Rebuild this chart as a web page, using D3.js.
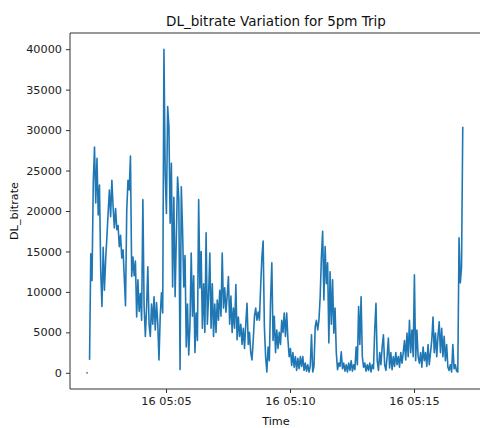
<!DOCTYPE html>
<html>
<head>
<meta charset="utf-8">
<script src="https://cdn.jsdelivr.net/npm/d3@7"></script>
<style>
  html, body { margin: 0; padding: 0; background: #fff; }
  svg { display: block; font-family: "DejaVu Sans", sans-serif; }
</style>
</head>
<body>
<svg id="chart" width="480" height="428"></svg>
<script>
// ---- data ----
const title = "DL_bitrate Variation for 5pm Trip";
const xLabel = "Time";
const yLabel = "DL_bitrate";
const startTime = [2023, 0, 16, 5, 1, 49]; // first sample, local time
const stepSeconds = 3;
const dlBitrate = [
  0, null, 1600, 14700, 11400, 23500, 27900, 21000, 26500, 19500,
  23200, 12700, 8200, 15500, 10200, 14000, 16800, 19800, 22600, 19300,
  23800, 20500, 17900, 20300, 17700, 18200, 15600, 17000, 14200, 15200,
  11800, 8300, 20100, 23800, 22600, 26800, 11900, 14300, 12000, 13800,
  6900, 11500, 7600, 9800, 6500, 21400, 8200, 4500, 8000, 13100,
  6000, 4500, 8500, 6000, 9400, 5300, 8700, 6200, 1600, 7000,
  9900, 7400, 40000, 24700, 19700, 32900, 30400, 18500, 25900, 10600,
  21700, 9400, 16800, 24200, 21400, 400, 23000, 17700, 10600, 14500,
  3200, 8500, 2200, 6000, 14800, 7000, 12000, 2500, 7400, 4000,
  21400, 10500, 15000, 5500, 11000, 5000, 17300, 6000, 9500, 14800,
  5500, 11000, 4500, 8500, 5000, 9000, 6500, 10200, 7000, 14800,
  8000, 10500, 7500, 9500, 11900, 6000, 9500, 5000, 8000, 5500,
  10900, 4100, 6900, 4500, 6000, 3500, 5500, 3000, 6000, 8600,
  3500, 5000, 2500, 1600, 4000, 7000, 8000, 6500, 7500, 6500,
  10600, 14300, 16300, 5700, 2000, 100, 3200, 1500, 9000, 13600,
  4000, 7000, 2500, 5300, 3000, 5000, 3500, 6500, 5000, 7400,
  4500, 7400, 4100, 2000, 3000, 900, 2500, 700, 2000, 300,
  1800, 500, 2000, 800, 2000, 300, 1200, 200, 1000, 100,
  800, 4700, 100, 800, 5700, 6500, 5300, 6500, 9400, 14300,
  17500, 9000, 15600, 11000, 13600, 3700, 12500, 6000, 11500, 4900,
  8000, 2500, 400, 1200, 800, 2600, 500, 1200, 200, 1000,
  100, 1200, 300, 1500, 200, 1000, 400, 3200, 1000, 8200,
  3500, 9400, 2000, 700, 1200, 200, 1000, 300, 1200, 100,
  1000, 500, 5300, 8600, 1500, 300, 2500, 1000, 3200, 4700,
  1000, 300, 2000, 4300, 600, 2500, 400, 2000, 800, 2500,
  1000, 2000, 700, 2500, 1200, 2500, 4000, 1600, 4900, 2000,
  6500, 2500, 5300, 2000, 12100, 1500, 5300, 2000, 1200, 2500,
  700, 3200, 1500, 2500, 800, 3500, 1000, 2500, 4000, 6900,
  2500, 4900, 2000, 4500, 6300, 2500, 5500, 2000, 4500, 1500,
  3500, 700, 300, 1000, 100, 3500, 500, 1000, 200, 100,
  16700, 11100, 13000, 30400
];
const yTicks = [0, 5000, 10000, 15000, 20000, 25000, 30000, 35000, 40000];
const xDomain = [[2023, 0, 16, 5, 1, 7.7], [2023, 0, 16, 5, 17, 39.7]];
const yDomain = [-2000, 42000];

// ---- build ----
const mkDate = a => new Date(a[0], a[1], a[2], a[3], a[4], 0, 0).getTime() + a[5] * 1000;
const t0 = mkDate(startTime);
const rows = dlBitrate.map((v, i) => ({ t: new Date(t0 + i * stepSeconds * 1000), v }));

const L = 70, R = 482, T = 33, B = 389;
const svg = d3.select("#chart");

const x = d3.scaleTime()
  .domain([new Date(mkDate(xDomain[0])), new Date(mkDate(xDomain[1]))])
  .range([L, 480]);
const y = d3.scaleLinear().domain(yDomain).range([B, T]);

svg.append("defs").append("clipPath").attr("id", "clip")
  .append("rect").attr("x", L).attr("y", T).attr("width", R - L).attr("height", B - T);

// line
const line = d3.line()
  .defined(d => d.v != null)
  .x(d => x(d.t))
  .y(d => y(d.v));

const plot = svg.append("g").attr("clip-path", "url(#clip)");
plot.append("path")
  .datum(rows)
  .attr("fill", "none")
  .attr("stroke", "#1f77b4")
  .attr("stroke-width", 1.6)
  .attr("stroke-linejoin", "round")
  .attr("d", line);

// isolated samples (neighbours missing) show as a dot
const isolated = rows.filter((d, i) => d.v != null &&
  (i === 0 || rows[i - 1].v == null) &&
  (i === rows.length - 1 || rows[i + 1].v == null));
plot.selectAll("circle.iso").data(isolated).enter().append("circle")
  .attr("class", "iso")
  .attr("cx", d => x(d.t)).attr("cy", d => y(d.v)).attr("r", 0.9)
  .attr("fill", "#1f77b4");

// axes
const fmt = d3.timeFormat("%d %H:%M");
const xAxis = d3.axisBottom(x)
  .ticks(d3.timeMinute.every(5))
  .tickFormat(fmt)
  .tickSize(4).tickPadding(4);
const gx = svg.append("g").attr("transform", `translate(0,${B})`).call(xAxis);
gx.select(".domain").remove();
gx.selectAll("line").attr("stroke", "#333");
gx.selectAll("text").attr("font-size", "11.25px").attr("fill", "#222")
  .attr("font-family", "DejaVu Sans, sans-serif");

const yAxis = d3.axisLeft(y).tickValues(yTicks).tickFormat(d3.format("d"))
  .tickSize(4).tickPadding(4);
const gy = svg.append("g").attr("transform", `translate(${L},0)`).call(yAxis);
gy.select(".domain").remove();
gy.selectAll("line").attr("stroke", "#333");
gy.selectAll("text").attr("font-size", "11.25px").attr("fill", "#222")
  .attr("font-family", "DejaVu Sans, sans-serif");

// spines
const spine = svg.append("g").attr("stroke", "#333").attr("stroke-width", 1).attr("fill", "none");
spine.append("line").attr("x1", L).attr("x2", L).attr("y1", T).attr("y2", B);
spine.append("line").attr("x1", L).attr("x2", 480).attr("y1", B).attr("y2", B);
spine.append("line").attr("x1", L).attr("x2", 480).attr("y1", T).attr("y2", T);

// labels
svg.append("text").attr("x", (L + R) / 2).attr("y", 26)
  .attr("text-anchor", "middle").attr("font-size", "13.5px").attr("fill", "#111")
  .text(title);
svg.append("text").attr("x", (L + R) / 2).attr("y", 425)
  .attr("text-anchor", "middle").attr("font-size", "11.25px").attr("fill", "#111")
  .text(xLabel);
svg.append("text")
  .attr("transform", `translate(18,${(T + B) / 2}) rotate(-90)`)
  .attr("text-anchor", "middle").attr("font-size", "11.25px").attr("fill", "#111")
  .text(yLabel);
</script>
</body>
</html>
